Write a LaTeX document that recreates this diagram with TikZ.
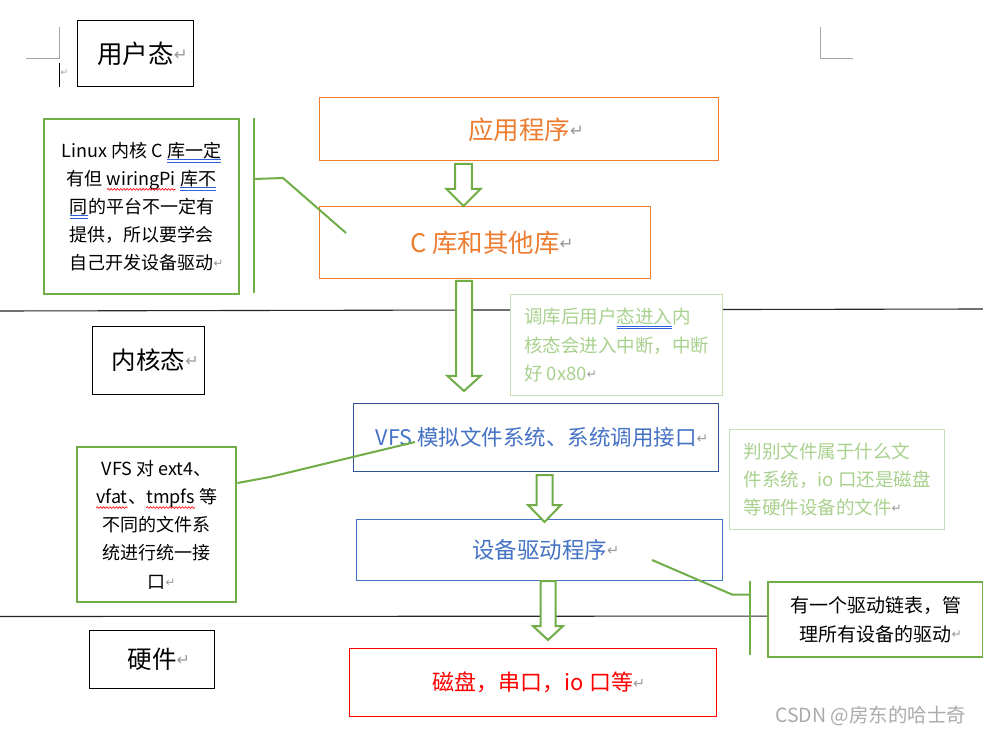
\documentclass[tikz,border=0pt]{standalone}
\usepackage{fontspec}
\setmainfont{Noto Sans CJK SC}
\newfontfamily\dvfont{DejaVu Sans}
\usetikzlibrary{decorations.pathmorphing}
\definecolor{wdorange}{HTML}{ED7D31}
\definecolor{wdblue}{HTML}{4472C4}
\definecolor{wddblue}{HTML}{2F5597}
\definecolor{wdgreen}{HTML}{70AD47}
\definecolor{lgtext}{HTML}{A9D18E}
\definecolor{lgborder}{HTML}{C5E0B4}
\definecolor{retgray}{HTML}{999999}
\definecolor{markgray}{HTML}{A6A6A6}
\definecolor{ulblue}{HTML}{2E62D9}
\definecolor{wmgray}{HTML}{ABABAB}
\newcommand\ret{\rlap{\raisebox{0.12em}{\scalebox{0.65}{\dvfont\color{retgray}↵}}}}
\tikzset{
  inl/.style={rectangle, draw=none, fill=none, inner sep=0pt, outer sep=0pt, minimum width=0pt, minimum height=0pt, anchor=base}
}
\newcommand\dul[1]{\tikz[baseline=(w.base),x=1pt,y=1pt]{\node[inl](w){#1};\draw[ulblue,line width=0.7pt]([yshift=-2.2pt]w.base west)--([yshift=-2.2pt]w.base east) ([yshift=-4.8pt]w.base west)--([yshift=-4.8pt]w.base east);}}
\newcommand\wav[1]{\tikz[baseline=(w.base),x=1pt,y=1pt]{\node[inl](w){#1};\draw[red,line width=0.6pt,decorate,decoration={snake,amplitude=0.9pt,segment length=3.2pt}]([yshift=-4pt]w.base west)--([yshift=-4pt]w.base east);}}
\tikzset{
  bx/.style={rectangle, inner sep=0pt, anchor=north west, fill=white},
  blackbox/.style={bx, draw=black, line width=1.1pt, text=black},
  orangebox/.style={bx, draw=wdorange, line width=1pt, text=wdorange, font=\fontsize{25.5}{28}\selectfont, text depth=1pt},
  bluebox/.style={bx, draw=wdblue, line width=1pt, text=wdblue, font=\fontsize{21.5}{28}\selectfont},
  redbox/.style={bx, draw=red, line width=1pt, text=red, font=\fontsize{22}{28}\selectfont},
  greenbox/.style={bx, draw=wdgreen, line width=2.4pt, text=black, align=center, font=\fontsize{18}{28.2}\selectfont},
  lightbox/.style={bx, draw=lgborder, line width=1.2pt, text=lgtext, align=left, font=\fontsize{18.5}{28.3}\selectfont},
  conn/.style={draw=wdgreen, line width=2pt},
  harr/.style={draw=wdgreen, line width=2pt, fill=white, line join=miter},
  sepline/.style={draw=black!85, line width=1.1pt},
  cornermark/.style={draw=markgray, line width=1pt}
}
\newcommand\harrow[7]{\path[harr] (#1-#5,#2) -- (#1+#5,#2) -- (#1+#5,#3) -- (#1+#6,#3) -- (#1,#4) -- (#1-#6,#3) -- (#1-#5,#3) -- cycle;}
\begin{document}
\begin{tikzpicture}[x=1pt,y=-1pt]
\useasboundingbox (0,0) rectangle (983,735);
\fill[white] (0,0) rectangle (983,735);
% page corner marks and cursor
\draw[cornermark] (26,59) -- (59,59) -- (59,27);
\draw[cornermark] (820,27) -- (820,59) -- (853,59);
\draw[black, line width=1pt] (59,63) -- (59,87);
\node[inner sep=0pt, anchor=west, font=\fontsize{14}{14}\selectfont] (cur) at (60,73) {\ret};
% separators
\draw[sepline] (0,311) -- (983,309);
\draw[sepline] (0,616.5) -- (983,616);
% layer boxes
\node[blackbox, minimum width=116pt, minimum height=66pt, font=\fontsize{25.5}{28}\selectfont] (user) at (77,20) {用户态\ret};
\node[blackbox, minimum width=112pt, minimum height=68pt, font=\fontsize{24.5}{28}\selectfont] (kern) at (92,326) {内核态\ret};
\node[blackbox, minimum width=125pt, minimum height=58pt, font=\fontsize{24.5}{28}\selectfont] (hwl) at (89,630) {硬件\ret};
% main stack
\node[orangebox, minimum width=399pt, minimum height=63pt] (app) at (319,97) {应用程序\ret};
\node[orangebox, minimum width=331pt, minimum height=72pt] (clib) at (319,206) {C 库和其他库\ret};
\node[bluebox, draw=wddblue, line width=1.3pt, minimum width=365pt, minimum height=68pt] (vfs) at (353,403) {VFS 模拟文件系统、系统调用接口\ret};
\node[bluebox, font=\fontsize{22.5}{28}\selectfont, minimum width=366pt, minimum height=61pt] (drv) at (356,519) {设备驱动程序\ret};
\node[redbox, minimum width=367pt, minimum height=68pt] (hw) at (349,648) {磁盘，串口，io 口等\ret};
% hollow arrows
\harrow{463.5}{164}{189}{206}{8.3}{17}{}
\harrow{464}{281}{376}{391}{8}{16.5}{}
\harrow{544.5}{475}{505}{522}{8}{16.5}{}
\harrow{548}{581}{626}{640}{7.5}{15}{}
% notes
\node[greenbox, minimum width=195pt, minimum height=175pt] (n1) at (43,118) {Linux 内核 C \dul{库一定}\\有但 \wav{wiringPi} \dul{库不}\\\dul{同}的平台不一定有\\提供，所以要学会\\自己开发设备驱动\ret};
\node[greenbox, minimum width=159pt, minimum height=155pt] (n2) at (76,446) {VFS 对 ext4、\\\wav{vfat}、\wav{tmpfs} 等\\不同的文件系\\统进行统一接\\口\ret};
\node[greenbox, font=\fontsize{19}{28.2}\selectfont, minimum width=215pt, minimum height=75pt] (n3) at (767,581) {有一个驱动链表，管\\理所有设备的驱动\ret};
\node[lightbox, minimum width=212pt, minimum height=101pt] (l1) at (510,294) {调库后用户\dul{\color{lgtext}态进入}内\\核态会进入中断，中断\\好 0x80\ret};
\node[lightbox, minimum width=215pt, minimum height=100pt] (l2) at (729,429) {判别文件属于什么文\\件系统，io 口还是磁盘\\等硬件设备的文件\ret};
% connectors
\coordinate (b1t) at (254,118);
\coordinate (b1b) at (254,293);
\coordinate (b1m) at (254,179);
\coordinate (c1) at (346,233);
\draw[conn] (b1t) -- (b1b);
\draw[conn] (b1m) -- (283,178) -- (c1);
\coordinate (c2) at (415,442);
\draw[conn] (n2.east |- 0,483) -- (270,477) -- (c2);
\coordinate (c3) at (652,560);
\coordinate (b3m) at (750,594.5);
\draw[conn] (c3) -- (732,594.5) -- (b3m);
\draw[conn] (750,581) -- (750,655);
% watermark
\node[anchor=west, inner sep=0pt, text=wmgray, font=\fontsize{19.5}{20}\selectfont] (wm) at (775,716) {CSDN @房东的哈士奇};
\end{tikzpicture}
\end{document}
